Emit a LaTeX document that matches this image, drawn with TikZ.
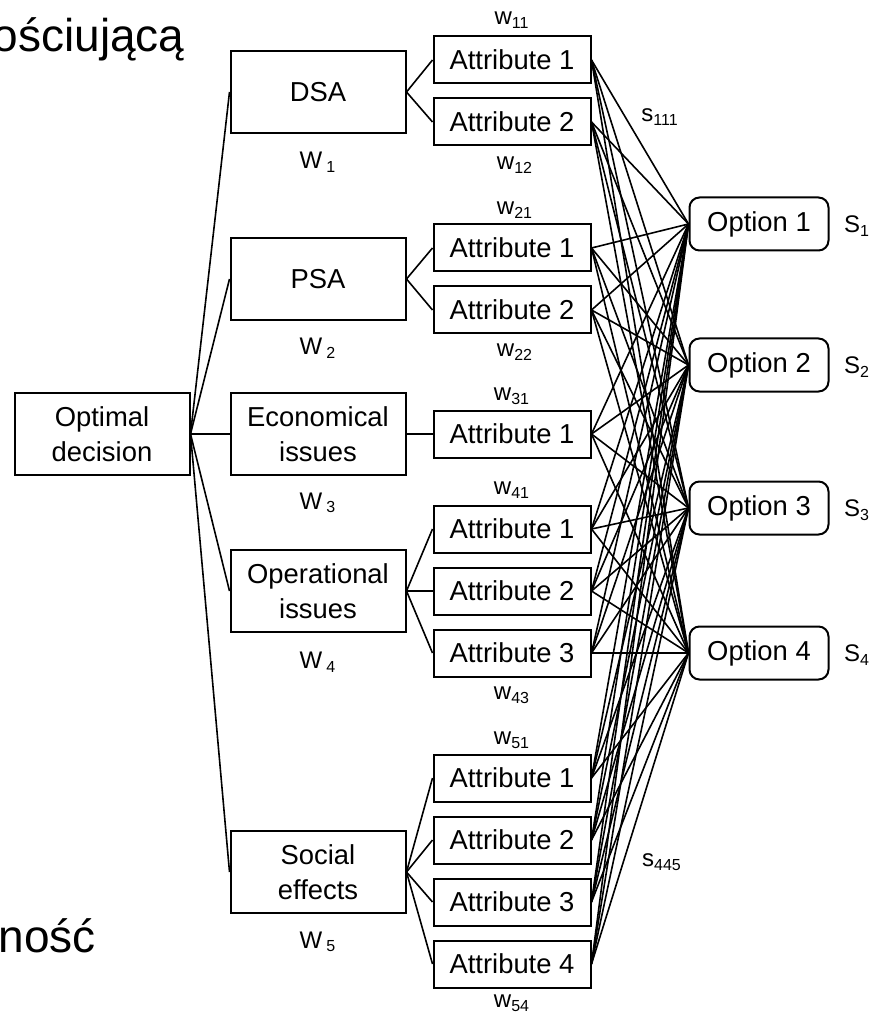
\documentclass[tikz,border=0pt]{standalone}
\usepackage{fontspec}
\setmainfont{Liberation Sans}
\begin{document}
\begin{tikzpicture}[x=0.5pt, y=-0.5pt, line width=0.8pt,
  box/.style={draw, line width=1pt, inner sep=0pt, align=center,
    font=\fontsize{13.7}{17.5}\selectfont},
  crit/.style={box, minimum width=87.5pt, minimum height=41pt},
  attr/.style={box, minimum width=78.5pt, minimum height=23.5pt},
  optn/.style={box, rounded corners=5pt, minimum width=69.5pt, minimum height=26.5pt},
  wt/.style={font=\fontsize{12}{14}\selectfont, inner sep=0pt},
  big/.style={anchor=base west, inner sep=0pt, font=\fontsize{23}{28}\selectfont}]
  \useasboundingbox (0,0) rectangle (877,1015);
  % slide text behind the figure
  \node[big] (txttop) at (-8,52) {ościującą};
  \node[big] (txtbot) at (-2,952) {ność};
  % goal and criteria
  \node[crit] (opt) at (102,434) {Optimal\\decision};
  \node[crit] (dsa) at (318,92) {DSA};
  \node[crit] (psa) at (318,279) {PSA};
  \node[crit] (eco) at (318,434) {Economical\\issues};
  \node[crit] (oper) at (318,591) {Operational\\issues};
  \node[crit] (soc) at (318,872) {Social\\effects};
  \node[wt] (W1) at (318,162) {W\,\textsubscript{1}};
  \node[wt] (W2) at (318,348) {W\,\textsubscript{2}};
  \node[wt] (W3) at (318,503) {W\,\textsubscript{3}};
  \node[wt] (W4) at (318,662) {W\,\textsubscript{4}};
  \node[wt] (W5) at (318,942) {W\,\textsubscript{5}};
  % attributes
  \node[attr] (a11) at (512,60) {Attribute 1};
  \node[attr] (a12) at (512,122) {Attribute 2};
  \node[attr] (a21) at (512,248) {Attribute 1};
  \node[attr] (a22) at (512,310) {Attribute 2};
  \node[attr] (a31) at (512,434) {Attribute 1};
  \node[attr] (a41) at (512,529) {Attribute 1};
  \node[attr] (a42) at (512,591) {Attribute 2};
  \node[attr] (a43) at (512,653) {Attribute 3};
  \node[attr] (a51) at (512,778) {Attribute 1};
  \node[attr] (a52) at (512,840) {Attribute 2};
  \node[attr] (a53) at (512,902) {Attribute 3};
  \node[attr] (a54) at (512,964) {Attribute 4};
  \node[wt] (w11) at (512,20) {w\textsubscript{11}};
  \node[wt] (w12) at (515,165) {w\textsubscript{12}};
  \node[wt] (w21) at (515,210) {w\textsubscript{21}};
  \node[wt] (w22) at (515,352) {w\textsubscript{22}};
  \node[wt] (w31) at (512,396) {w\textsubscript{31}};
  \node[wt] (w41) at (512,490) {w\textsubscript{41}};
  \node[wt] (w43) at (512,695) {w\textsubscript{43}};
  \node[wt] (w51) at (512,740) {w\textsubscript{51}};
  \node[wt] (w54) at (512,1003) {w\textsubscript{54}};
  % options
  \node[optn] (o1) at (759,224) {Option 1};
  \node[optn] (o2) at (759,365) {Option 2};
  \node[optn] (o3) at (759,508) {Option 3};
  \node[optn] (o4) at (759,653) {Option 4};
  \node[wt] (S1) at (857,226) {S\textsubscript{1}};
  \node[wt] (S2) at (857,367) {S\textsubscript{2}};
  \node[wt] (S3) at (857,510) {S\textsubscript{3}};
  \node[wt] (S4) at (857,655) {S\textsubscript{4}};
  \node[wt] (s111) at (660,117) {s\textsubscript{111}};
  \node[wt] (s445) at (662,862) {s\textsubscript{445}};
  % connectors
  \foreach \c in {dsa,psa,eco,oper,soc}
    \draw (opt.east) -- (\c.west);
  \foreach \c/\a in {dsa/a11,dsa/a12,psa/a21,psa/a22,eco/a31,
                     oper/a41,oper/a42,oper/a43,soc/a51,soc/a52,soc/a53,soc/a54}
    \draw (\c.east) -- (\a.west);
  \foreach \a in {a11,a12,a21,a22,a31,a41,a42,a43,a51,a52,a53,a54}
    \foreach \o in {o1,o2,o3,o4}
      \draw (\a.east) -- (\o.west);
\end{tikzpicture}
\end{document}
